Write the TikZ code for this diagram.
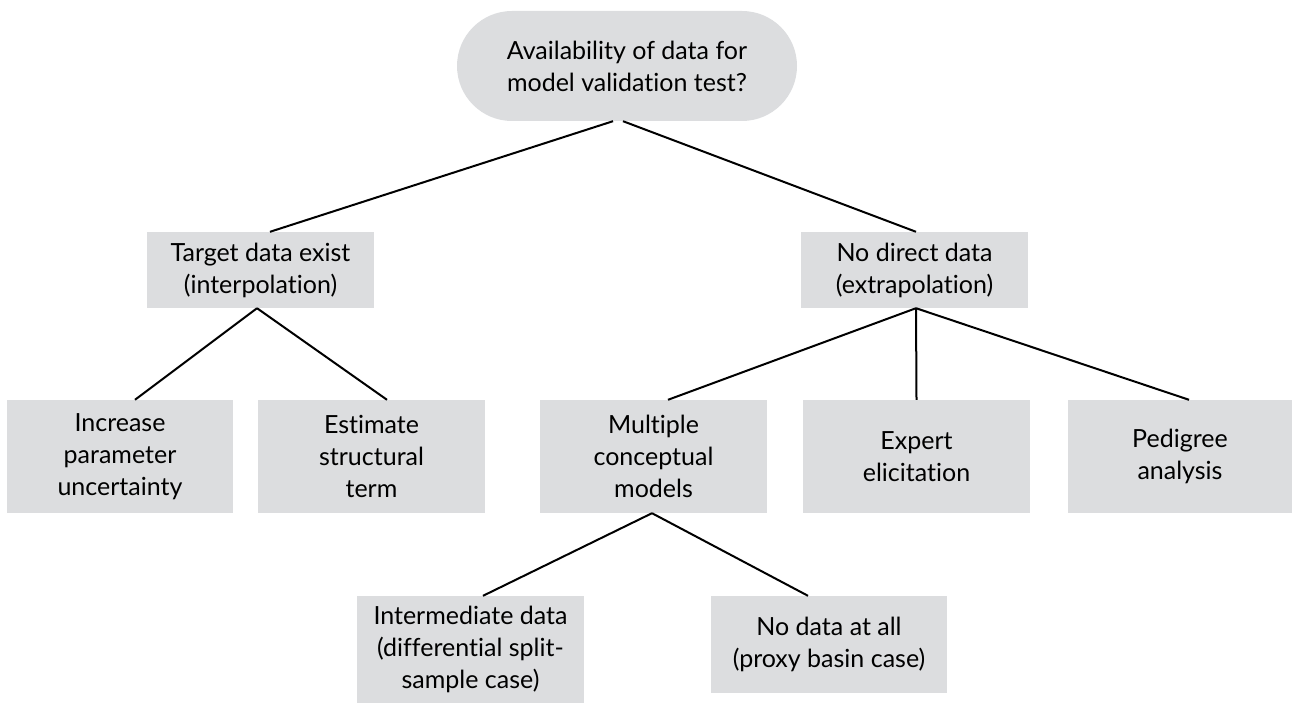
\documentclass[tikz,border=0pt]{standalone}
\usepackage{fontspec}
\setmainfont[Ligatures=NoCommon]{Lato}
\definecolor{boxgray}{HTML}{DCDDDF}
\tikzset{
  box/.style={fill=boxgray, draw=none, inner sep=0pt, align=center,
    font=\fontsize{25}{32}\selectfont},
  link/.style={draw=black, line width=2pt}
}
\begin{document}
\begin{tikzpicture}[x=1pt,y=-1pt]
\useasboundingbox (0,0) rectangle (1292,703);
\node[box, rounded corners=55pt, minimum width=340pt, minimum height=110pt] (root) at (627,66)
  {Availability of data for\\model validation test?};
\node[box, minimum width=227pt, minimum height=76pt] (target) at (260.5,270)
  {Target data exist\\(interpolation)};
\node[box, minimum width=227pt, minimum height=76pt] (nodirect) at (914.5,270)
  {No direct data\\(extrapolation)};
\node[box, minimum width=226pt, minimum height=113pt] (increase) at (120,456.5)
  {Increase\\parameter\\uncertainty};
\node[box, minimum width=227pt, minimum height=113pt] (estimate) at (371.5,456.5)
  {Estimate\\structural\\term};
\node[box, minimum width=227pt, minimum height=113pt] (multiple) at (653.5,456.5)
  {Multiple\\conceptual\\models};
\node[box, minimum width=227pt, minimum height=113pt] (expert) at (916.5,456.5)
  {Expert\\elicitation};
\node[box, minimum width=224pt, minimum height=113pt] (pedigree) at (1180,456.5)
  {Pedigree\\analysis};
\node[box, minimum width=227pt, minimum height=107pt] (intermediate) at (470.5,649.5)
  {Intermediate data\\(differential split-\\sample case)};
\node[box, minimum width=236pt, minimum height=97pt] (nodata) at (829,644.5)
  {No data at all\\(proxy basin case)};
\draw[link] ([xshift=-14pt]root.south) -- ([xshift=9.5pt]target.north);
\draw[link] ([xshift=-4pt]root.south) -- ([xshift=1.5pt]nodirect.north);
\draw[link] ([xshift=-3.5pt]target.south) -- ([xshift=15pt]increase.north);
\draw[link] ([xshift=-3.5pt]target.south) -- ([xshift=15.5pt]estimate.north);
\draw[link] ([xshift=1.5pt]nodirect.south) -- ([xshift=14.5pt]multiple.north);
\draw[link] ([xshift=1.5pt]nodirect.south) -- ([xshift=0pt]expert.north);
\draw[link] ([xshift=1.5pt]nodirect.south) -- ([xshift=9pt]pedigree.north);
\draw[link] ([xshift=-1.5pt]multiple.south) -- ([xshift=12.5pt]intermediate.north);
\draw[link] ([xshift=-1.5pt]multiple.south) -- ([xshift=-21pt]nodata.north);
\end{tikzpicture}
\end{document}
